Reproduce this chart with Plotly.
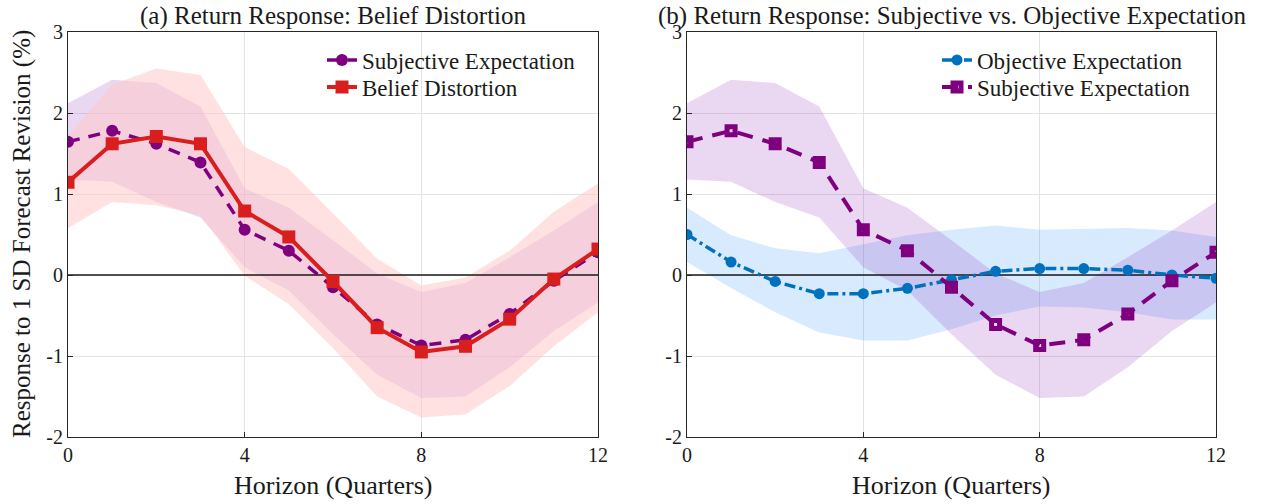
import plotly.graph_objects as go

horizon = list(range(13))

# Panel (a)
subj = [1.645, 1.78, 1.62, 1.39, 0.56, 0.30, -0.15, -0.61, -0.87, -0.80, -0.48, -0.07, 0.28]
subj_up = [2.12, 2.41, 2.37, 2.08, 1.07, 0.83, 0.43, 0.02, -0.21, -0.10, 0.22, 0.55, 0.90]
subj_lo = [1.18, 1.15, 0.90, 0.71, 0.095, -0.19, -0.73, -1.23, -1.52, -1.50, -1.14, -0.69, -0.34]

belief = [1.145, 1.62, 1.71, 1.62, 0.79, 0.47, -0.08, -0.65, -0.95, -0.88, -0.545, -0.05, 0.32]
belief_up = [1.72, 2.35, 2.55, 2.47, 1.58, 1.31, 0.76, 0.20, -0.13, -0.03, 0.30, 0.78, 1.13]
belief_lo = [0.58, 0.90, 0.86, 0.74, -0.01, -0.36, -0.90, -1.50, -1.76, -1.72, -1.37, -0.88, -0.46]

# Panel (b)
obj = [0.50, 0.16, -0.08, -0.23, -0.23, -0.165, -0.06, 0.045, 0.08, 0.08, 0.06, 0.0, -0.04]
obj_up = [0.83, 0.49, 0.33, 0.27, 0.38, 0.49, 0.56, 0.61, 0.56, 0.57, 0.58, 0.55, 0.47]
obj_lo = [0.16, -0.16, -0.46, -0.71, -0.81, -0.81, -0.67, -0.50, -0.39, -0.40, -0.46, -0.55, -0.55]

x_ticks = [0, 4, 8, 12]
y_ticks = [-2, -1, 0, 1, 2, 3]
y_tick_labels = ["-2", "-1", "0", "1", "2", "3"]

PURPLE = "#7f007f"
RED = "#d91e1e"
BLUE = "#0072bd"
FONT = "Liberation Serif"
TXT = "#1a1a1a"

PURPLE_BAND = "rgba(140,40,190,0.18)"
RED_BAND = "rgba(255,200,200,0.55)"
BLUE_BAND = "rgba(60,150,250,0.2)"

fig = go.Figure()


def band(x, up, lo, color, xa, ya):
    fig.add_trace(go.Scatter(
        x=list(x) + list(x)[::-1], y=list(up) + list(lo)[::-1],
        fill="toself", fillcolor=color, line=dict(width=0), mode="lines",
        hoverinfo="skip", showlegend=False, xaxis=xa, yaxis=ya))


def zero_line(xa, ya):
    fig.add_trace(go.Scatter(x=[horizon[0], horizon[-1]], y=[0, 0], mode="lines",
                             line=dict(color="#1a1a1a", width=1.3), showlegend=False,
                             hoverinfo="skip", xaxis=xa, yaxis=ya))


# ---- panel a ----
band(horizon, subj_up, subj_lo, PURPLE_BAND, "x", "y")
band(horizon, belief_up, belief_lo, RED_BAND, "x", "y")
zero_line("x", "y")
fig.add_trace(go.Scatter(x=horizon, y=subj, mode="lines+markers", name="Subjective Expectation",
                         line=dict(color=PURPLE, width=3.5, dash="12px,9px"),
                         marker=dict(symbol="circle", size=12, color=PURPLE),
                         legend="legend", xaxis="x", yaxis="y"))
fig.add_trace(go.Scatter(x=horizon, y=belief, mode="lines+markers", name="Belief Distortion",
                         line=dict(color=RED, width=4),
                         marker=dict(symbol="square", size=13, color=RED),
                         legend="legend2", xaxis="x", yaxis="y"))

# ---- panel b ----
band(horizon, obj_up, obj_lo, BLUE_BAND, "x2", "y2")
band(horizon, subj_up, subj_lo, PURPLE_BAND, "x2", "y2")
zero_line("x2", "y2")
fig.add_trace(go.Scatter(x=horizon, y=obj, mode="lines+markers", name="Objective Expectation",
                         line=dict(color=BLUE, width=3.5, dash="11px,4px,3px,4px"),
                         marker=dict(symbol="circle", size=11, color=BLUE),
                         legend="legend3", xaxis="x2", yaxis="y2"))
fig.add_trace(go.Scatter(x=horizon, y=subj, mode="lines+markers", name="Subjective Expectation",
                         line=dict(color=PURPLE, width=4, dash="16px,10px"),
                         marker=dict(symbol="square-open", size=8, color=PURPLE,
                                     line=dict(width=5, color=PURPLE)),
                         legend="legend4", xaxis="x2", yaxis="y2"))

W, H = 1278, 504
dom_a = [68 / W, 598 / W]
dom_b = [687 / W, 1216 / W]
dom_y = [67 / H, 472 / H]

axis_common = dict(
    showline=True, mirror=True, linecolor="#262626", linewidth=1.2,
    ticks="inside", ticklen=5, tickcolor="#262626", automargin=False,
    showgrid=True, gridcolor="#e3e3e3", gridwidth=1, zeroline=False,
    tickfont=dict(family=FONT, size=20, color=TXT),
)


def leg(x_px, y_px):
    return dict(x=x_px / W, y=(H - y_px) / H, xanchor="left", yanchor="middle",
                bgcolor="rgba(0,0,0,0)", font=dict(family=FONT, size=23, color=TXT),
                itemwidth=30, borderwidth=0)


fig.update_layout(
    width=W, height=H, margin=dict(l=0, r=0, t=0, b=0, autoexpand=False),
    plot_bgcolor="white", paper_bgcolor="white",
    font=dict(family=FONT, color=TXT),
    xaxis=dict(domain=dom_a, range=[0, 12], tickvals=x_ticks, anchor="y", **axis_common),
    yaxis=dict(domain=dom_y, range=[-2, 3], tickvals=y_ticks, ticktext=y_tick_labels,
               anchor="x", **axis_common),
    xaxis2=dict(domain=dom_b, range=[0, 12], tickvals=x_ticks, anchor="y2", **axis_common),
    yaxis2=dict(domain=dom_y, range=[-2, 3], tickvals=y_ticks, ticktext=y_tick_labels,
                anchor="x2", **axis_common),
    legend=leg(322, 60),
    legend2=leg(322, 87),
    legend3=leg(937, 60),
    legend4=leg(937, 87),
    annotations=[
        dict(text="(a) Return Response: Belief Distortion", x=(dom_a[0] + dom_a[1]) / 2,
             y=1.0, xref="paper", yref="paper", showarrow=False,
             font=dict(family=FONT, size=25, color=TXT), xanchor="center", yanchor="top"),
        dict(text="(b) Return Response: Subjective vs. Objective Expectation", x=952 / W,
             y=1.0, xref="paper", yref="paper", showarrow=False,
             font=dict(family=FONT, size=25, color=TXT), xanchor="center", yanchor="top"),
        dict(text="Horizon (Quarters)", x=(dom_a[0] + dom_a[1]) / 2, y=(H - 485) / H,
             xref="paper", yref="paper", showarrow=False,
             font=dict(family=FONT, size=26, color=TXT), xanchor="center", yanchor="middle"),
        dict(text="Horizon (Quarters)", x=(dom_b[0] + dom_b[1]) / 2, y=(H - 485) / H,
             xref="paper", yref="paper", showarrow=False,
             font=dict(family=FONT, size=26, color=TXT), xanchor="center", yanchor="middle"),
        dict(text="Response to 1 SD Forecast Revision (%)", x=22 / W, y=(H - 234) / H,
             xref="paper", yref="paper", showarrow=False, textangle=-90,
             font=dict(family=FONT, size=25, color=TXT), xanchor="center", yanchor="middle"),
    ],
)

fig.write_html("out.html", config={"displayModeBar": False},
               post_script="document.body.style.margin='0';")
